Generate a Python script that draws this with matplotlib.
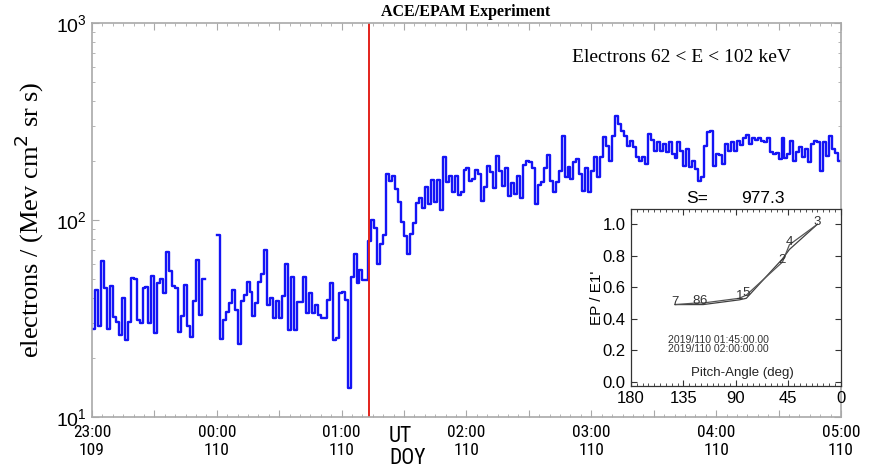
import numpy as np
import matplotlib
matplotlib.use("Agg")
import matplotlib.pyplot as plt
from matplotlib.ticker import MultipleLocator, FuncFormatter, LogLocator, NullFormatter
from matplotlib import font_manager
from matplotlib.font_manager import FontProperties

nan = np.nan

# ACE/EPAM electrons 62-102 keV, one value per step (23:00 UT onwards)
flux_2300 = [28, 44, 29, 62, 45, 28, 46, 32, 30.5, 26, 40, 24.6, 30.5, 51, 50, 31, 30, 45, 45.5, 30,
             52, 26.6, 48, 50, 42.6, 69, 55, 46, 45, 27, 32.6, 46.5, 28.8, 25.6, 39, 63, 33, 50,
             nan, nan, nan, nan]
flux_0000 = [84, 25, 31, 34, 38, 44, 35, 23.4, 38.6, 41.4, 48.4, 43, 32.6, 38, 48.3, 53, 70, 37, 40, 31.7,
             38.6, 31.7, 41, 60, 27.7, 51.5, 27.7, 38.3, 38.2, 51.2, 33.7, 42.6, 33.7, 37.1, 33, 31.7,
             31.7, 39.4, 47.9, 24.6, 25.2, 42.6, 43.3, 39.4, 14, 51.2, 67.3, 47.9, 56, 49.8, 49.8]
flux_0113 = [78.5, 100, 90.7, 59.8, 75.5, 84, 171, 158, 168, 144, 124, 98, 83, 67, 85, 97, 122, 130,
             115, 147, 120, 160, 123, 160, 113, 208, 155, 168, 138, 168, 134, 138, 180]
flux_0200 = [183, 158, 162, 179, 171, 125, 147, 189, 175, 145, 212, 178, 149, 183, 132, 154, 135, 167,
             129, 190, 200, 196, 183, 120, 150, 155, 183, 214, 158, 138, 156, 178, 266, 165, 185, 162,
             198, 204, 171, 141, 183, 138]
flux_0300 = [178, 208, 165, 210, 263, 238, 200, 268, 338, 307, 284, 266, 237, 253, 234, 208, 200, 208,
             192, 273, 256, 225, 250, 225, 243, 221, 250, 216, 207, 248, 225, 189, 229, 185, 200, 182,
             158, 165, 238, 279, 284]
flux_0400 = [189, 216, 214, 192, 243, 225, 248, 225, 253, 240, 260, 270, 243, 260, 256, 262, 253, 248,
             260, 221, 216, 219, 204, 262, 206, 216, 253, 200, 221, 234, 208, 229, 196, 243, 253, 250,
             178, 248, 212, 266, 229, 218, 200]
steps_per_hour = 42

hour_labels = ["23:00", "00:00", "01:00", "02:00", "03:00", "04:00", "05:00"]
doy_labels = ["109", "110", "110", "110", "110", "110", "110"]
event_time = 2 + 13 / 60.0   # 01:13 UT, hours after 23:00

# inset: pitch angle distribution
sectors = ["7", "8", "6", "1", "5", "2", "4", "3"]
pitch_deg = [142, 124, 118, 87, 81, 50, 44, 20]
ratio_0145 = [0.49, 0.49, 0.49, 0.52, 0.53, 0.78, 0.84, 1.0]
ratio_0200 = [0.49, 0.50, 0.50, 0.53, 0.55, 0.76, 0.87, 1.0]
s_value = 977.3

# look for a regular-weight narrow sans font for the time axis
narrow_file = None
for f in font_manager.fontManager.ttflist:
    tag = (f.name + " " + str(f.stretch) + " " + f.fname).lower()
    fn = f.fname.lower()
    if not ("narrow" in tag or "condensed" in tag):
        continue
    if f.weight not in (400, "normal", "regular", "book") or f.style != "normal":
        continue
    if "bold" in fn or "oblique" in fn or "italic" in fn or "serif" in fn or "mono" in fn:
        continue
    narrow_file = f.fname
    if "liberation" in fn:
        break
if narrow_file:
    def narrow_fp(size):
        return FontProperties(fname=narrow_file, size=size)
    tick_size = 12.5
else:
    def narrow_fp(size):
        return FontProperties(family="Liberation Sans", size=size)
    tick_size = 10.5

flux = np.array(flux_2300 + flux_0000 + flux_0113 + flux_0200 + flux_0300 + flux_0400, dtype=float)
t = np.arange(len(flux) + 1) / steps_per_hour

fig = plt.figure(figsize=(8.72, 4.70), dpi=100)
ax = fig.add_axes([0.1055, 0.1128, 0.8589, 0.8383])
ax.step(t, np.append(flux, flux[-1]), where="post", color="#1414f5", lw=1.7)
ax.axvline(event_time, color="#e3231b", lw=1.4)

ax.set_yscale("log")
ax.set_ylim(10, 1000)
ax.set_xlim(0, 6)
ax.xaxis.set_major_locator(MultipleLocator(0.5))
ax.xaxis.set_minor_locator(MultipleLocator(1 / 12))


def xlab(x, pos):
    h = int(round(x))
    if abs(x - h) > 1e-6:
        return ""
    return hour_labels[h] + "\n" + doy_labels[h]


ax.xaxis.set_major_formatter(FuncFormatter(xlab))
ax.yaxis.set_minor_locator(LogLocator(base=10, subs=np.arange(2, 10)))
ax.yaxis.set_minor_formatter(NullFormatter())

for s in ax.spines.values():
    s.set_color("#a9a9a9")
    s.set_linewidth(1.2)
ax.tick_params(which="both", direction="in", top=True, right=True, color="#a9a9a9")
ax.tick_params(which="major", length=5)
ax.tick_params(which="minor", length=2.5)
ax.tick_params(axis="x", pad=6)
for lab in ax.get_xticklabels():
    lab.set_fontproperties(narrow_fp(tick_size))
    lab.set_linespacing(1.25)
for lab in ax.get_yticklabels():
    lab.set_family("Liberation Sans")
    lab.set_fontsize(14)

ax.set_ylabel("electrons / (Mev cm$^2$ sr s)", family="Liberation Serif", fontsize=19)
ax.yaxis.set_label_coords(-0.062, 0.5)

fig.text(466 / 872, 1 - 12 / 470, "ACE/EPAM Experiment", ha="center", va="center",
         family="Liberation Serif", weight="bold", fontsize=11.5)
fig.text(572 / 872, 1 - 57 / 470, "Electrons 62 < E < 102 keV", ha="left", va="center",
         family="Liberation Serif", fontsize=14)
fig.text(389 / 872, 1 - 436 / 470, "UT", ha="left", va="center", fontproperties=narrow_fp(15.5))
fig.text(389 / 872, 1 - 459 / 470, "DOY", ha="left", va="center", fontproperties=narrow_fp(15.5))

# inset
ax2 = fig.add_axes([0.7236, 0.1794, 0.2405, 0.3753])
ax2.plot(pitch_deg, ratio_0145, color="#404040", lw=0.9)
ax2.plot(pitch_deg, ratio_0200, color="#555555", lw=0.9)
for lab, p, r in zip(sectors, pitch_deg, ratio_0200):
    ax2.text(p, r + 0.015, lab, ha="center", va="center", fontsize=9.5, color="#333333",
             family="Liberation Sans")
ax2.set_xlim(180, 0)
ax2.set_ylim(-0.025, 1.095)
ax2.xaxis.set_major_locator(MultipleLocator(45))
ax2.xaxis.set_minor_locator(MultipleLocator(5))
ax2.yaxis.set_major_locator(MultipleLocator(0.2))
ax2.yaxis.set_major_formatter(FuncFormatter(lambda v, p: f"{v:.1f}"))
ax2.tick_params(which="both", direction="in", top=True, right=True, color="#333333")
ax2.tick_params(which="major", length=4, labelsize=12, pad=4)
ax2.tick_params(which="minor", length=2)
for lab in ax2.get_xticklabels() + ax2.get_yticklabels():
    lab.set_family("Liberation Sans")
for s in ax2.spines.values():
    s.set_color("#333333")
    s.set_linewidth(0.9)
ax2.set_ylabel("EP / E1'", family="Liberation Sans", fontsize=11)
ax2.yaxis.set_label_coords(-0.13, 0.5)
ax2.text(0.531, 0.07, "Pitch-Angle (deg)", transform=ax2.transAxes, ha="center", va="center",
         fontsize=9.5, family="Liberation Sans", color="#222222")
ax2.text(0.178, 0.259, "2019/110 01:45:00.00", transform=ax2.transAxes, ha="left", va="center",
         fontsize=7.6, family="Liberation Sans", color="#333333")
ax2.text(0.178, 0.208, "2019/110 02:00:00.00", transform=ax2.transAxes, ha="left", va="center",
         fontsize=7.6, family="Liberation Sans", color="#333333")
ax2.text(0.262, 1.036, "S=", transform=ax2.transAxes, ha="left", va="baseline",
         fontsize=12.5, family="Liberation Sans")
ax2.text(0.524, 1.036, f"{s_value:.1f}", transform=ax2.transAxes, ha="left", va="baseline",
         fontsize=12.5, family="Liberation Sans")

fig.savefig("out.png", dpi=100)
